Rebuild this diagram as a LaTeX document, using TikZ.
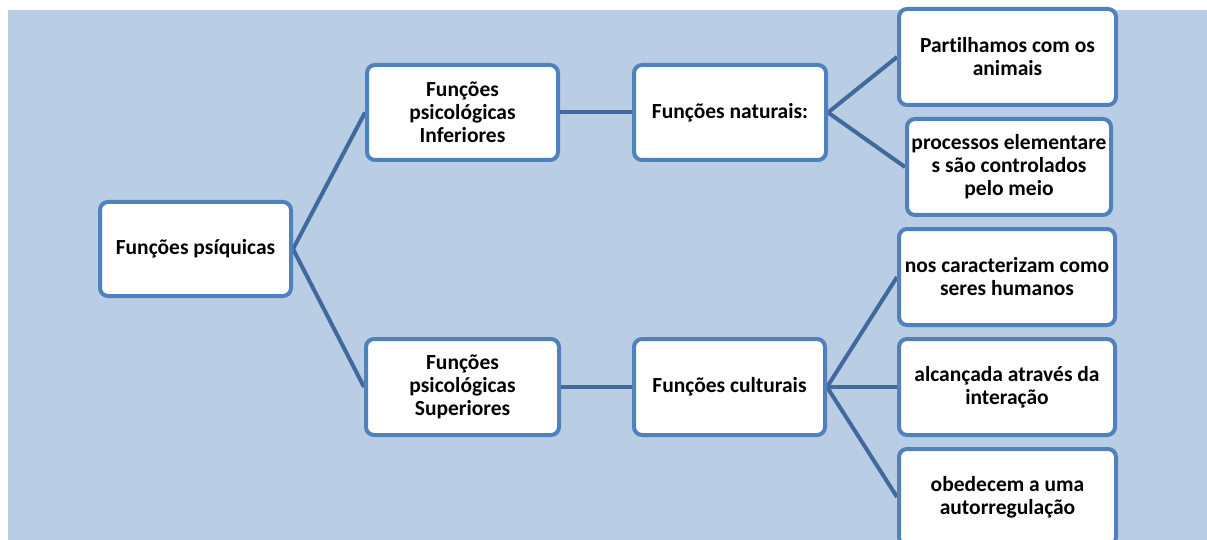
\documentclass[tikz,border=0pt]{standalone}
\usepackage{fontspec}
\setmainfont[Ligatures=NoCommon]{Carlito}
\usetikzlibrary{backgrounds}
\definecolor{bgblue}{RGB}{185,205,229}
\definecolor{boxline}{RGB}{79,129,189}
\definecolor{conn}{RGB}{65,105,158}
\tikzset{
  box/.style={draw=boxline, line width=4pt, fill=white, rounded corners=8pt,
    align=center, inner sep=0pt, font=\fontsize{21.5}{23}\selectfont\bfseries},
  link/.style={draw=conn, line width=4pt}
}
\begin{document}
\begin{tikzpicture}[x=1pt,y=-1pt]
\useasboundingbox (0,0) rectangle (1207,540);
\node[box, minimum width=191pt, minimum height=94pt] (root) at (195.5,249) {Funções psíquicas};
\node[box, minimum width=191pt, minimum height=95pt] (inf) at (462.5,112.5) {Funções\\psicológicas\\Inferiores};
\node[box, minimum width=192pt, minimum height=95pt] (nat) at (730,112.5) {Funções naturais:};
\node[box, minimum width=217pt, minimum height=96pt] (p1) at (1007.5,57) {Partilhamos com os\\animais};
\node[box, minimum width=204pt, minimum height=96pt] (p2) at (1009,167) {processos elementare\\s são controlados\\pelo meio};
\node[box, minimum width=193pt, minimum height=96pt] (sup) at (462.5,387) {Funções\\psicológicas\\Superiores};
\node[box, minimum width=191pt, minimum height=96pt] (cul) at (729.5,387) {Funções culturais};
\node[box, minimum width=216pt, minimum height=96pt] (c1) at (1007,277) {nos caracterizam como\\seres humanos};
\node[box, minimum width=216pt, minimum height=96pt] (c2) at (1007,387) {alcançada através da\\interação};
\node[box, minimum width=217pt, minimum height=96pt] (c3) at (1007.5,497) {obedecem a uma\\autorregulação};
\begin{pgfonlayer}{background}
\fill[bgblue] (8,10) rectangle (1207,540);
\draw[link] (root.east) -- (inf.west);
\draw[link] (root.east) -- (sup.west);
\draw[link] (inf.east) -- (nat.west);
\draw[link] (sup.east) -- (cul.west);
\draw[link] (nat.east) -- (p1.west);
\draw[link] (nat.east) -- (p2.west);
\draw[link] (cul.east) -- (c1.west);
\draw[link] (cul.east) -- (c2.west);
\draw[link] (cul.east) -- (c3.west);
\end{pgfonlayer}
\end{tikzpicture}
\end{document}
